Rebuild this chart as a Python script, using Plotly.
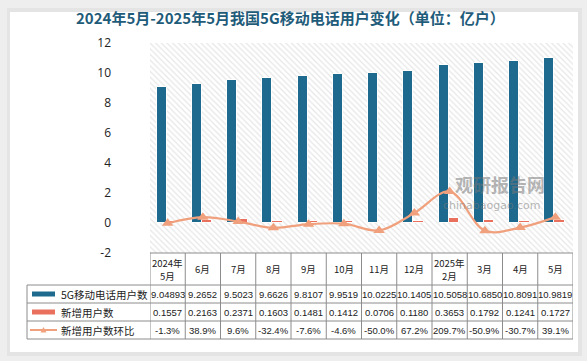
import plotly.graph_objects as go

months = ["2024年\n5月", "6月", "7月", "8月", "9月", "10月", "11月", "12月", "2025年\n2月", "3月", "4月", "5月"]
users_5g = [9.04893, 9.2652, 9.5023, 9.6626, 9.8107, 9.9519, 10.0225, 10.1405, 10.5058, 10.6850, 10.8091, 10.9819]
users_5g_text = ["9.04893", "9.2652", "9.5023", "9.6626", "9.8107", "9.9519", "10.0225", "10.1405", "10.5058", "10.6850", "10.8091", "10.9819"]
new_users = [0.1557, 0.2163, 0.2371, 0.1603, 0.1481, 0.1412, 0.0706, 0.1180, 0.3653, 0.1792, 0.1241, 0.1727]
new_users_text = ["0.1557", "0.2163", "0.2371", "0.1603", "0.1481", "0.1412", "0.0706", "0.1180", "0.3653", "0.1792", "0.1241", "0.1727"]
mom_pct = [-1.3, 38.9, 9.6, -32.4, -7.6, -4.6, -50.0, 67.2, 209.7, -50.9, -30.7, 39.1]
series_names = ["5G移动电话用户数", "新增用户数", "新增用户数环比"]
title = "2024年5月-2025年5月我国5G移动电话用户变化（单位：亿户）"

C_BLUE = "#1d6a8e"
C_RED = "#e8705c"
C_LINE = "#f0a07c"
GRID = "#8c8c8c"
FONT = "Noto Sans CJK SC"

n = len(months)
xs = list(range(n))
mom = [v / 100 for v in mom_pct]

fig = go.Figure()
# hatched plot background
fig.add_trace(go.Bar(x=[(n - 1) / 2], y=[14], base=[-2], width=[n],
                     marker=dict(color="white", line=dict(width=0),
                                 pattern=dict(shape="\\", fgcolor="#cdcdcd", bgcolor="white", size=4, solidity=0.3)),
                     hoverinfo="skip", showlegend=False))
fig.add_trace(go.Bar(x=xs, y=users_5g, offset=-0.31, width=0.28, name=series_names[0],
                     marker=dict(color=C_BLUE, line=dict(color="white", width=1)), showlegend=False))
fig.add_trace(go.Bar(x=xs, y=new_users, offset=-0.03, width=0.3, name=series_names[1],
                     marker=dict(color=C_RED, line=dict(color="white", width=1)), showlegend=False))
fig.add_trace(go.Scatter(x=xs, y=mom, mode="lines+markers", name=series_names[2],
                         line=dict(color=C_LINE, width=2.2, shape="spline", smoothing=1),
                         marker=dict(symbol="triangle-up", size=10, color=C_LINE), showlegend=False))

L, R, T, B = 150, 14, 43, 108
W, H = 587, 361
pw, ph = W - L - R, H - T - B

def px_x(px):
    return (px - L) / pw

def px_y(py):
    return (H - B - py) / ph

shapes = []
# card shadow and card
shapes.append(dict(type="rect", xref="paper", yref="paper", x0=px_x(7), x1=px_x(582), y0=px_y(356), y1=px_y(8),
                   fillcolor="#e4e4e4", line=dict(width=0), layer="below"))
shapes.append(dict(type="rect", xref="paper", yref="paper", x0=px_x(10), x1=px_x(578), y0=px_y(352), y1=px_y(12),
                   fillcolor="white", line=dict(width=0), layer="below"))

# table geometry
y_head_top = 0
y_rows = [px_y(285), px_y(303), px_y(321), px_y(339)]
x_leg = px_x(27)
line = dict(color=GRID, width=1)
shapes.append(dict(type="line", xref="paper", yref="paper", x0=0, x1=1, y0=y_head_top, y1=y_head_top, line=line))
for yy in y_rows:
    shapes.append(dict(type="line", xref="paper", yref="paper", x0=x_leg, x1=1, y0=yy, y1=yy, line=line))
for i in range(n + 1):
    shapes.append(dict(type="line", xref="x", yref="paper", x0=i - 0.5, x1=i - 0.5, y0=y_head_top, y1=y_rows[-1], line=line))
shapes.append(dict(type="line", xref="paper", yref="paper", x0=x_leg, x1=x_leg, y0=y_rows[0], y1=y_rows[-1], line=line))

annotations = []
tf = dict(family="Liberation Sans", size=9.5, color="#222")
hf = dict(family=FONT, size=9.5, color="#222")
mom_text = [f"{v:.1f}%" for v in mom_pct]
for i in range(n):
    parts = months[i].split("\n")
    if len(parts) == 1:
        annotations.append(dict(x=i, y=(y_head_top + y_rows[0]) / 2, xref="x", yref="paper", text=parts[0],
                                showarrow=False, font=hf, xanchor="center", yanchor="middle"))
    else:
        for k, ptxt in enumerate(parts):
            annotations.append(dict(x=i, y=px_y(262.5 + 13.5 * k), xref="x", yref="paper", text=ptxt,
                                    showarrow=False, font=hf, xanchor="center", yanchor="middle"))
    for r, arr in enumerate([users_5g_text, new_users_text, mom_text]):
        annotations.append(dict(x=i, y=(y_rows[r] + y_rows[r + 1]) / 2, xref="x", yref="paper", text=arr[i],
                                showarrow=False, font=tf, xanchor="center", yanchor="middle"))

# legend column
for r in range(3):
    yc = (y_rows[r] + y_rows[r + 1]) / 2
    annotations.append(dict(x=px_x(59), y=yc, xref="paper", yref="paper", text=series_names[r], showarrow=False,
                            font=dict(family=FONT, size=10.5, color="#222"), xanchor="left", yanchor="middle"))
    if r < 2:
        shapes.append(dict(type="rect", xref="paper", yref="paper", x0=px_x(32), x1=px_x(55),
                           y0=yc - 2.5 / ph, y1=yc + 2.5 / ph, fillcolor=[C_BLUE, C_RED][r], line=dict(width=0)))
    else:
        shapes.append(dict(type="line", xref="paper", yref="paper", x0=px_x(30), x1=px_x(57), y0=yc, y1=yc,
                           line=dict(color=C_LINE, width=2)))
        shapes.append(dict(type="path", xref="paper", yref="paper",
                           path=f"M {px_x(40.5)} {yc - 2.5/ph} L {px_x(46.5)} {yc - 2.5/ph} L {px_x(43.5)} {yc + 3/ph} Z",
                           fillcolor=C_LINE, line=dict(width=0)))

# title
annotations.append(dict(x=px_x(290), y=px_y(18), xref="paper", yref="paper", text=f"<b>{title}</b>", showarrow=False,
                        font=dict(family=FONT, size=15, color="#1f5c7a"), xanchor="center", yanchor="middle"))
# watermark
annotations.append(dict(x=px_x(500), y=px_y(184), xref="paper", yref="paper", text="<b>观研报告网</b>", showarrow=False,
                        font=dict(family=FONT, size=18, color="rgba(120,120,120,0.55)"), xanchor="center", yanchor="middle"))
annotations.append(dict(x=px_x(492), y=px_y(205), xref="paper", yref="paper", text="chinabaogao.com", showarrow=False,
                        font=dict(family="DejaVu Sans", size=11, color="rgba(120,120,120,0.55)"), xanchor="center", yanchor="middle"))

fig.update_layout(
    width=W, height=H, margin=dict(l=L, r=R, t=T, b=B),
    paper_bgcolor="#eeeeee", plot_bgcolor="white",
    barmode="overlay", bargap=0,
    shapes=shapes, annotations=annotations,
    font=dict(family=FONT),
    xaxis=dict(range=[-0.5, n - 0.5], showticklabels=False, showgrid=False, zeroline=False, showline=False, fixedrange=True),
    yaxis=dict(range=[-2, 12], tickmode="array", tickvals=[-2, 0, 2, 4, 6, 8, 10, 12],
               ticktext=["-2", "0", "2", "4", "6", "8", "10", "12"], showgrid=False,
               zeroline=True, zerolinecolor="#8c8c8c", zerolinewidth=1.2, showline=False,
               tickfont=dict(family="Open Sans", size=12, color="#222"), ticklabelstandoff=38),
)
fig.write_html("out.html", config={"displayModeBar": False},
               post_script="document.body.style.margin='0';document.body.style.padding='0';")
